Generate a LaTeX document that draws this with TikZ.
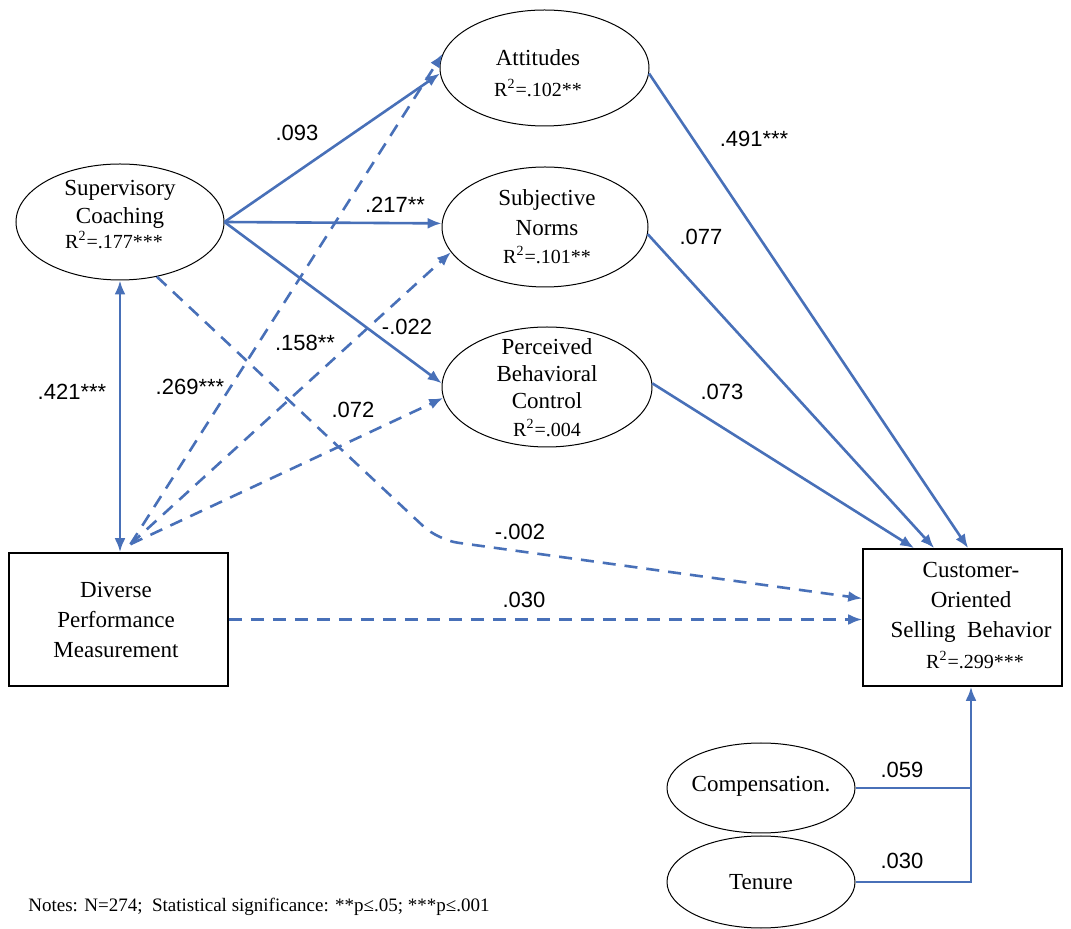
\documentclass[tikz,border=0pt]{standalone}
\usepackage{fontspec}
\setmainfont{Liberation Serif}
\newfontfamily\lblfont{Liberation Sans}
\usetikzlibrary{arrows.meta,shapes.geometric,calc}
\definecolor{pathblue}{RGB}{72,112,184}
\tikzset{pathtip/.tip={Latex[length=7pt,width=5.5pt]}}

\begin{document}
\begin{tikzpicture}[x=0.5pt,y=-0.5pt,
  latent/.style={draw=black,line width=0.5pt,ellipse,inner sep=0pt},
  observed/.style={draw=black,line width=0.8pt,rectangle,inner sep=0pt},
  ctext/.style={align=center,inner sep=0pt,font=\fontsize{11.5}{14}\selectfont},
  rsq/.style={inner sep=0pt,font=\fontsize{10}{12}\selectfont},
  coef/.style={inner sep=0pt,font=\lblfont\fontsize{11}{12}\selectfont},
  arr/.style={draw=pathblue,line width=1.3pt,-{pathtip}},
  darr/.style={arr,dash pattern=on 6.5pt off 4.5pt},
  bare/.style={draw=pathblue,line width=1.3pt}]
\useasboundingbox (0,0) rectangle (1071,929);

% constructs
\node[latent,minimum width=104pt,minimum height=58pt] (sc) at (120,222) {};
\node[ctext] (scname) at (120,204) {Supervisory\\Coaching};
\node[rsq] (scr) at (114,240) {R\textsuperscript{2}=.177***};

\node[latent,minimum width=104.5pt,minimum height=58pt] (att) at (544.5,68) {};
\node[ctext] (attname) at (538,58) {Attitudes};
\node[rsq] (attr) at (538,88) {R\textsuperscript{2}=.102**};

\node[latent,minimum width=103pt,minimum height=60pt] (sn) at (545,227) {};
\node[ctext,font=\fontsize{11.5}{15}\selectfont] (snname) at (547,213) {Subjective\\Norms};
\node[rsq] (snr) at (547,255) {R\textsuperscript{2}=.101**};

\node[latent,minimum width=105pt,minimum height=60pt] (pbc) at (547,387) {};
\node[ctext,font=\fontsize{11.5}{13.5}\selectfont] (pbcname) at (547,374) {Perceived\\Behavioral\\Control};
\node[rsq] (pbcr) at (547,428) {R\textsuperscript{2}=.004};

\node[observed,minimum width=109.5pt,minimum height=66.5pt] (dpm) at (118.5,619.5) {};
\node[ctext,font=\fontsize{11.5}{15}\selectfont] (dpmname) at (116,620) {Diverse\\Performance\\Measurement};

\node[observed,minimum width=99.5pt,minimum height=68.5pt] (cosb) at (962.5,617.5) {};
\node[ctext,font=\fontsize{11.5}{15}\selectfont] (cosbname) at (971,602) {Customer-\\Oriented\\Selling~~Behavior};
\node[rsq] (cosbr) at (975,660) {R\textsuperscript{2}=.299***};

\node[latent,minimum width=94pt,minimum height=45pt] (comp) at (761,788) {};
\node[ctext] (compname) at (761,786) {Compensation.};
\node[latent,minimum width=94pt,minimum height=46pt] (ten) at (761,882) {};
\node[ctext] (tenname) at (761,882) {Tenure};

% helper points
\coordinate (bend) at (438,540);
\coordinate (src) at ($(dpm.north)+(12,-8)$);
\coordinate (jn) at (971,882);

% coaching paths
\draw[arr] (sc.east) -- (att.183);
\draw[arr] (sc.east) -- (sn.178);
\draw[arr] (sc.east) -- (pbc.178);
\draw[arr,{pathtip}-{pathtip}] (sc.south) -- (sc.south |- dpm.north);
\draw[darr,rounded corners=10pt] (sc.-56) -- (bend) -- ($(cosb.west)+(0,-19)$);

% performance measurement paths
\draw[darr] (src) -- (att.172);
\draw[darr] (src) -- (sn.195);
\draw[darr] (src) -- (pbc.186);
\draw[darr] (dpm.east) -- (dpm.east -| cosb.west);

% attitude paths into selling behaviour
\draw[arr] (att.-3) -- ($(cosb.north west)+(106,0)$);
\draw[arr] (sn.-4) -- ($(cosb.north west)+(72,0)$);
\draw[arr] (pbc.2) -- ($(cosb.north west)+(52,0)$);

% controls
\draw[bare] (comp.east) -- (comp.east -| jn);
\draw[arr] (ten.east) -- (jn) -- (jn |- cosb.south);

% coefficients
\node[coef] (c1) at (297,133) {.093};
\node[coef] (c2) at (395,205) {.217**};
\node[coef] (c3) at (407,327) {-.022};
\node[coef] (c4) at (305,343) {.158**};
\node[coef] (c5) at (72,392) {.421***};
\node[coef] (c6) at (190,387) {.269***};
\node[coef] (c7) at (353,410) {.072};
\node[coef] (c8) at (520,532) {-.002};
\node[coef] (c9) at (524,600) {.030};
\node[coef] (c10) at (754,139) {.491***};
\node[coef] (c11) at (701,237) {.077};
\node[coef] (c12) at (722,392) {.073};
\node[coef] (c13) at (902,770) {.059};
\node[coef] (c14) at (902,861) {.030};

\node[anchor=west,inner sep=0pt,font=\fontsize{9.5}{11}\selectfont] (notes) at (28,907)
  {Notes: N=274;\ \ Statistical significance: **p≤.05; ***p≤.001};
\end{tikzpicture}
\end{document}
